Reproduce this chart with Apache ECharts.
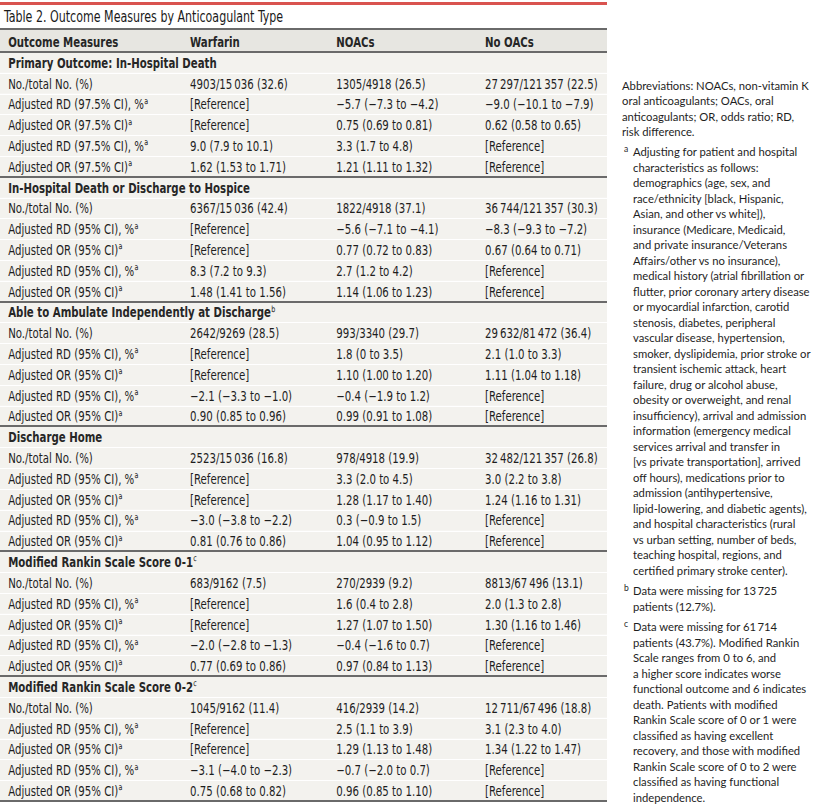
<!DOCTYPE html>
<html><head><meta charset="utf-8">
<script src="https://cdn.jsdelivr.net/npm/echarts@6/dist/echarts.min.js"></script>
<style>html,body{margin:0;padding:0;background:#fff}#chart{width:818px;height:806px}</style>
</head><body><div id="chart"></div>
<script>
// ---------- data ----------
const titleText = 'Table 2. Outcome Measures by Anticoagulant Type';
const columns = ['Outcome Measures', 'Warfarin', 'NOACs', 'No OACs'];
const sectionTitles = [
  'Primary Outcome: In-Hospital Death',
  'In-Hospital Death or Discharge to Hospice',
  'Able to Ambulate Independently at Discharge',
  'Discharge Home',
  'Modified Rankin Scale Score 0-1',
  'Modified Rankin Scale Score 0-2'
];
const sectionMarks = ['', '', 'b', '', 'c', 'c'];
const measureLabels97 = ['No./total No. (%)', 'Adjusted RD (97.5% CI), %', 'Adjusted OR (97.5% CI)', 'Adjusted RD (97.5% CI), %', 'Adjusted OR (97.5% CI)'];
const measureLabels95 = ['No./total No. (%)', 'Adjusted RD (95% CI), %', 'Adjusted OR (95% CI)', 'Adjusted RD (95% CI), %', 'Adjusted OR (95% CI)'];
const measureMarks = ['', 'a', 'a', 'a', 'a'];
const T = '\u2009';
const warfarin = [
  ['4903/15' + T + '036 (32.6)', '[Reference]', '[Reference]', '9.0 (7.9 to 10.1)', '1.62 (1.53 to 1.71)'],
  ['6367/15' + T + '036 (42.4)', '[Reference]', '[Reference]', '8.3 (7.2 to 9.3)', '1.48 (1.41 to 1.56)'],
  ['2642/9269 (28.5)', '[Reference]', '[Reference]', '\u22122.1 (\u22123.3 to \u22121.0)', '0.90 (0.85 to 0.96)'],
  ['2523/15' + T + '036 (16.8)', '[Reference]', '[Reference]', '\u22123.0 (\u22123.8 to \u22122.2)', '0.81 (0.76 to 0.86)'],
  ['683/9162 (7.5)', '[Reference]', '[Reference]', '\u22122.0 (\u22122.8 to \u22121.3)', '0.77 (0.69 to 0.86)'],
  ['1045/9162 (11.4)', '[Reference]', '[Reference]', '\u22123.1 (\u22124.0 to \u22122.3)', '0.75 (0.68 to 0.82)']
];
const noacs = [
  ['1305/4918 (26.5)', '\u22125.7 (\u22127.3 to \u22124.2)', '0.75 (0.69 to 0.81)', '3.3 (1.7 to 4.8)', '1.21 (1.11 to 1.32)'],
  ['1822/4918 (37.1)', '\u22125.6 (\u22127.1 to \u22124.1)', '0.77 (0.72 to 0.83)', '2.7 (1.2 to 4.2)', '1.14 (1.06 to 1.23)'],
  ['993/3340 (29.7)', '1.8 (0 to 3.5)', '1.10 (1.00 to 1.20)', '\u22120.4 (\u22121.9 to 1.2)', '0.99 (0.91 to 1.08)'],
  ['978/4918 (19.9)', '3.3 (2.0 to 4.5)', '1.28 (1.17 to 1.40)', '0.3 (\u22120.9 to 1.5)', '1.04 (0.95 to 1.12)'],
  ['270/2939 (9.2)', '1.6 (0.4 to 2.8)', '1.27 (1.07 to 1.50)', '\u22120.4 (\u22121.6 to 0.7)', '0.97 (0.84 to 1.13)'],
  ['416/2939 (14.2)', '2.5 (1.1 to 3.9)', '1.29 (1.13 to 1.48)', '\u22120.7 (\u22122.0 to 0.7)', '0.96 (0.85 to 1.10)']
];
const noOacs = [
  ['27' + T + '297/121' + T + '357 (22.5)', '\u22129.0 (\u221210.1 to \u22127.9)', '0.62 (0.58 to 0.65)', '[Reference]', '[Reference]'],
  ['36' + T + '744/121' + T + '357 (30.3)', '\u22128.3 (\u22129.3 to \u22127.2)', '0.67 (0.64 to 0.71)', '[Reference]', '[Reference]'],
  ['29' + T + '632/81' + T + '472 (36.4)', '2.1 (1.0 to 3.3)', '1.11 (1.04 to 1.18)', '[Reference]', '[Reference]'],
  ['32' + T + '482/121' + T + '357 (26.8)', '3.0 (2.2 to 3.8)', '1.24 (1.16 to 1.31)', '[Reference]', '[Reference]'],
  ['8813/67' + T + '496 (13.1)', '2.0 (1.3 to 2.8)', '1.30 (1.16 to 1.46)', '[Reference]', '[Reference]'],
  ['12' + T + '711/67' + T + '496 (18.8)', '3.1 (2.3 to 4.0)', '1.34 (1.22 to 1.47)', '[Reference]', '[Reference]']
];
const abbreviationLines = [
  'Abbreviations: NOACs, non-vitamin K',
  'oral anticoagulants; OACs, oral',
  'anticoagulants; OR, odds ratio; RD,',
  'risk difference.'
];
const noteALines = [
  'Adjusting for patient and hospital',
  'characteristics as follows:',
  'demographics (age, sex, and',
  'race/ethnicity [black, Hispanic,',
  'Asian, and other vs white]),',
  'insurance (Medicare, Medicaid,',
  'and private insurance/Veterans',
  'Affairs/other vs no insurance),',
  'medical history (atrial fibrillation or',
  'flutter, prior coronary artery disease',
  'or myocardial infarction, carotid',
  'stenosis, diabetes, peripheral',
  'vascular disease, hypertension,',
  'smoker, dyslipidemia, prior stroke or',
  'transient ischemic attack, heart',
  'failure, drug or alcohol abuse,',
  'obesity or overweight, and renal',
  'insufficiency), arrival and admission',
  'information (emergency medical',
  'services arrival and transfer in',
  '[vs private transportation], arrived',
  'off hours), medications prior to',
  'admission (antihypertensive,',
  'lipid-lowering, and diabetic agents),',
  'and hospital characteristics (rural',
  'vs urban setting, number of beds,',
  'teaching hospital, regions, and',
  'certified primary stroke center).'
];
const noteBLines = [
  'Data were missing for 13' + T + '725',
  'patients (12.7%).'
];
const noteCLines = [
  'Data were missing for 61' + T + '714',
  'patients (43.7%). Modified Rankin',
  'Scale ranges from 0 to 6, and',
  'a higher score indicates worse',
  'functional outcome and 6 indicates',
  'death. Patients with modified',
  'Rankin Scale score of 0 or 1 were',
  'classified as having excellent',
  'recovery, and those with modified',
  'Rankin Scale score of 0 to 2 were',
  'classified as having functional',
  'independence.'
];

// ---------- build rows ----------
const rows = [];
sectionTitles.forEach((t, s) => {
  rows.push({ kind: 'section', text: t + (sectionMarks[s] ? '{sup|' + sectionMarks[s] + '}' : '') });
  const labels = s === 0 ? measureLabels97 : measureLabels95;
  labels.forEach((lab, m) => {
    rows.push({ kind: 'data', cells: [
      lab + (measureMarks[m] ? '{sup|' + measureMarks[m] + '}' : ''),
      warfarin[s][m], noacs[s][m], noOacs[s][m]
    ]});
  });
});
const rowCats = rows.map((r, i) => 'r' + i);

// ---------- styles ----------
const TABLE_FONT = '"Liberation Sans Narrow", "DejaVu Sans Condensed", Roboto, sans-serif';
const NOTE_FONT = 'Lato, "Noto Sans", sans-serif';
const TEXT = '#1e1e1e';
const BG = '#f3f2ee';
const HEAD_BG = '#e7e6e1';
const RULE = '#6a6a6a';
const COL_X = [1.35, 31.3, 55.4, 79.9]; // text start, % of table width
const FS = 13.5;
const SX = 0.84;
const rich = { sup: { fontSize: 8.5, lineHeight: 8, verticalAlign: 'top', fill: TEXT, fontFamily: TABLE_FONT } };

function textEl(str, x, y, bold) {
  return { type: 'text', x: x, y: y, scaleX: SX, originX: 0, originY: 0, style: {
    text: str, x: 0, y: 0, align: 'left', verticalAlign: 'middle',
    fill: bold ? '#262626' : TEXT, fontSize: FS, lineHeight: 16, fontFamily: TABLE_FONT,
    fontWeight: bold ? 'bold' : 'normal', rich: rich
  }};
}
function hline(x1, x2, y, color, w) {
  return { type: 'line', shape: { x1: x1, y1: y, x2: x2, y2: y }, style: { stroke: color, lineWidth: w } };
}

function renderBody(params, api) {
  const r = api.value(1);
  const row = rows[r];
  const p0 = api.coord([0, r]);
  const p1 = api.coord([100, r]);
  const bandH = api.size([0, 1])[1];
  const top = p0[1] - bandH / 2;
  const w = p1[0] - p0[0];
  const ch = [{ type: 'rect', shape: { x: p0[0], y: top, width: w, height: bandH }, style: { fill: BG } }];
  if (row.kind === 'section') {
    ch.push(textEl(row.text, p0[0] + COL_X[0] * w / 100, p0[1] + 0.5, true));
    ch.push(hline(p0[0], p1[0], Math.round(top), RULE, 2));
  } else {
    ch.push(hline(p0[0], p1[0], Math.round(top) + 0.5, '#ffffff', 1));
    row.cells.forEach((c, i) => ch.push(textEl(c, p0[0] + COL_X[i] * w / 100, p0[1] + 0.5, false)));
  }
  if (r === rows.length - 1) ch.push(hline(p0[0], p1[0], Math.round(top + bandH), RULE, 2));
  return { type: 'group', children: ch };
}
function renderHead(params, api) {
  const p0 = api.coord([0, 0]);
  const p1 = api.coord([100, 0]);
  const bandH = api.size([0, 1])[1];
  const top = p0[1] - bandH / 2;
  const w = p1[0] - p0[0];
  const ch = [{ type: 'rect', shape: { x: p0[0], y: top, width: w, height: bandH }, style: { fill: HEAD_BG } }];
  columns.forEach((c, i) => ch.push(textEl(c, p0[0] + COL_X[i] * w / 100, p0[1] + 1.5, true)));
  ch.push(hline(p0[0], p1[0], Math.round(top), RULE, 2));
  ch.push(hline(p0[0], p1[0], Math.round(top + bandH), RULE, 2));
  return { type: 'group', children: ch };
}

const LH = 15.5, GAP = 4.8;
function noteBlock(lines, x, firstCenter, marker) {
  const els = [{ type: 'text', x: x, y: firstCenter - LH / 2, scaleX: 0.94, silent: true,
    style: { text: lines.join('\n'), fill: TEXT, fontSize: 12, lineHeight: LH, fontFamily: NOTE_FONT, verticalAlign: 'top', align: 'left' } }];
  if (marker) {
    els.push({ type: 'text', x: x - 9, y: firstCenter - 7, silent: true,
      style: { text: marker, fill: TEXT, fontSize: 8.5, fontFamily: NOTE_FONT, verticalAlign: 'top', align: 'left' } });
  }
  return els;
}
const yAbbr = 85;
const yA = yAbbr + abbreviationLines.length * LH + GAP;
const yB = yA + noteALines.length * LH + GAP;
const yC = yB + noteBLines.length * LH + GAP;

const option = {
  animation: false,
  backgroundColor: '#ffffff',
  grid: [
    { left: 0, width: 607, top: 52, height: 749 },
    { left: 0, width: 607, top: 29, height: 23 }
  ],
  xAxis: [
    { type: 'value', min: 0, max: 100, show: false, gridIndex: 0 },
    { type: 'value', min: 0, max: 100, show: false, gridIndex: 1 }
  ],
  yAxis: [
    { type: 'category', data: rowCats, inverse: true, show: false, gridIndex: 0 },
    { type: 'category', data: ['header'], inverse: true, show: false, gridIndex: 1 }
  ],
  series: [
    { type: 'custom', xAxisIndex: 0, yAxisIndex: 0, renderItem: renderBody, clip: false, silent: true,
      encode: { x: 0, y: 1 }, data: rows.map((r, i) => [0, i]) },
    { type: 'custom', xAxisIndex: 1, yAxisIndex: 1, renderItem: renderHead, clip: false, silent: true,
      encode: { x: 0, y: 1 }, data: [[0, 0]] }
  ],
  graphic: [
    { type: 'rect', shape: { x: 0, y: 2, width: 607, height: 3 }, style: { fill: '#d9534f' }, silent: true },
    { type: 'text', x: 4, y: 16, scaleX: 0.77, silent: true,
      style: { text: titleText, fill: '#1a1a1a', fontSize: 16, fontFamily: TABLE_FONT, verticalAlign: 'middle', align: 'left' } }
  ].concat(
    noteBlock(abbreviationLines, 622, yAbbr),
    noteBlock(noteALines, 633, yA, 'a'),
    noteBlock(noteBLines, 633, yB, 'b'),
    noteBlock(noteCLines, 633, yC, 'c')
  )
};
const chart = echarts.init(document.getElementById('chart'), null, { renderer: 'svg' });
chart.setOption(option);
</script>
</body></html>
